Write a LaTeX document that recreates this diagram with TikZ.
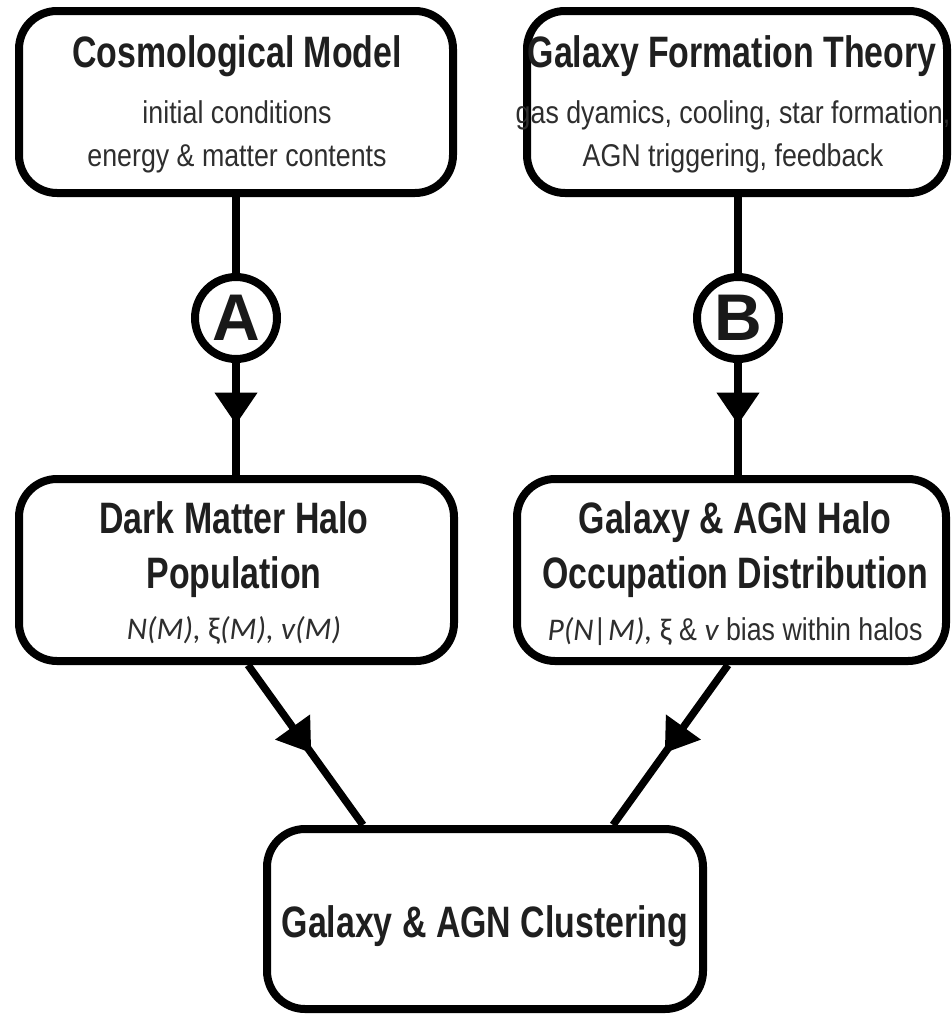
\documentclass[tikz,border=0pt]{standalone}
\usepackage{fontspec}
\setmainfont{Liberation Sans}
\newfontfamily\headfont{Liberation Sans}[FakeStretch=0.77]
\newfontfamily\bodyfont{Liberation Sans}[FakeStretch=0.85]
\newfontfamily\symfont{Carlito}
\usetikzlibrary{arrows.meta,decorations.markings}

\tikzset{
  panel/.style={draw=black, line width=8pt, rounded corners=38pt, inner sep=0pt,
                minimum width=434pt, minimum height=182pt},
  headtext/.style={anchor=base, inner sep=0pt, text=black!88,
                   font=\headfont\bfseries\fontsize{44}{44}\selectfont},
  bodytext/.style={anchor=base, inner sep=0pt, text=black!82,
                   font=\bodyfont\fontsize{31.5}{32}\selectfont},
  stagecircle/.style={circle, draw=black, line width=8pt, minimum size=82pt, inner sep=0pt,
                      text=black!90, font=\bfseries\fontsize{66}{66}\selectfont},
  wire/.style={line width=7.5pt},
  flow/.style={line width=7.5pt, postaction=decorate,
               decoration={markings,
                 mark=at position 0.55 with {\arrow{Triangle[length=32pt,width=41pt]}}}}
}

\begin{document}
\begin{tikzpicture}[x=1pt,y=-1pt]
  \useasboundingbox (0,0) rectangle (951,1017);
  \fill[white] (0,0) rectangle (951,1017);

  % boxes
  \node[panel] (cosmo) at (236,102) {};
  \node[panel, minimum width=420pt] (theory) at (737,102) {};
  \node[panel, minimum width=435pt] (halo) at (236.5,570) {};
  \node[panel, minimum width=429pt] (hod) at (731.5,570) {};
  \node[panel, minimum width=436pt, minimum height=180pt] (clust) at (485,919) {};

  % stage markers
  \node[stagecircle] (A) at (236,318) {A};
  \node[stagecircle] (B) at (738,318) {B};

  % texts
  \node[headtext] (t1) at (237,67) {Cosmological Model};
  \node[bodytext] (t1a) at (237,123) {initial conditions};
  \node[bodytext] (t1b) at (237,166) {energy \& matter contents};

  \node[headtext] (t2) at (732,67) {Galaxy Formation Theory};
  \node[bodytext] (t2a) at (733,123) {gas dyamics, cooling, star formation,};
  \node[bodytext] (t2b) at (733,166) {AGN triggering, feedback};

  \node[headtext] (t3) at (234,533) {Dark Matter Halo};
  \node[headtext] (t3a) at (234,588) {Population};
  \node[bodytext] (t3b) at (234,639) {\symfont\itshape N(M), {\upshape ξ}(M), v(M)};

  \node[headtext] (t4) at (735,533) {Galaxy \& AGN Halo};
  \node[headtext] (t4a) at (735,588) {Occupation Distribution};
  \node[bodytext] (t4b) at (735,640) {{\symfont\itshape P(N|M),} {\symfont ξ} \& {\symfont\itshape v} bias within halos};

  \node[headtext] (t5) at (485,937) {Galaxy \& AGN Clustering};

  % connectors
  \draw[wire] (cosmo.south -| A) -- (A.north);
  \draw[flow] (A.south) -- (A.south |- halo.north);
  \draw[wire] (theory.south -| B) -- (B.north);
  \draw[flow] (B.south) -- (B.south |- hod.north);
  \draw[flow] ([xshift=11.5pt]halo.south) -- ([xshift=-122pt]clust.north);
  \draw[flow] ([xshift=-3.5pt]hod.south) -- ([xshift=128pt]clust.north);
\end{tikzpicture}
\end{document}
